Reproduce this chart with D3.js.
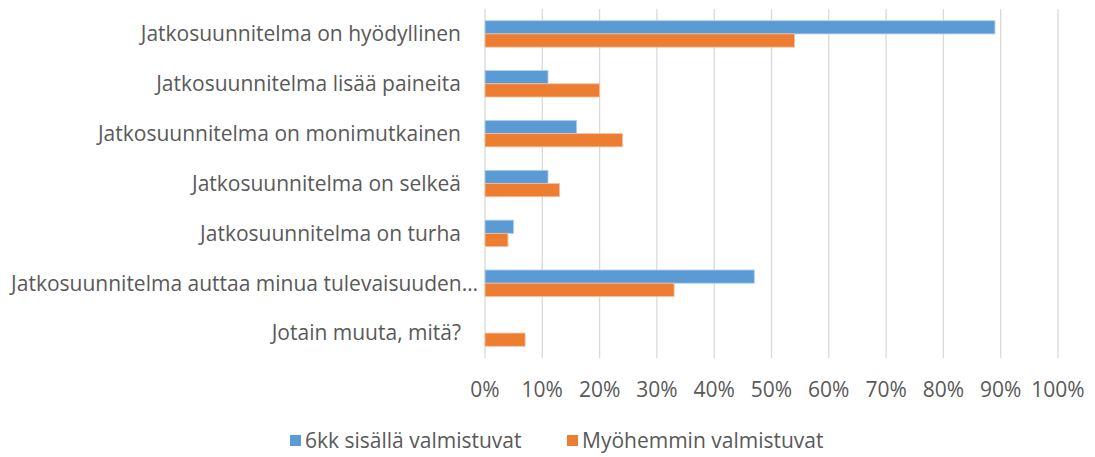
<!DOCTYPE html>
<html lang="fi">
<head>
<meta charset="UTF-8">
<title>Jatkosuunnitelma</title>
<style>
  body { margin: 0; background: #fff; }
  svg text { font-family: "Open Sans", sans-serif; fill: #595959; }
</style>
</head>
<body>
<svg width="1095" height="457"></svg>
<script src="https://d3js.org/d3.v7.min.js"></script>
<script>
const categories = [
  "Jatkosuunnitelma on hyödyllinen",
  "Jatkosuunnitelma lisää paineita",
  "Jatkosuunnitelma on monimutkainen",
  "Jatkosuunnitelma on selkeä",
  "Jatkosuunnitelma on turha",
  "Jatkosuunnitelma auttaa minua tulevaisuuden…",
  "Jotain muuta, mitä?"
];
const seriesNames = ["6kk sisällä valmistuvat", "Myöhemmin valmistuvat"];
const within6 = [89, 11, 16, 11, 5, 47, 0];
const later = [54, 20, 24, 13, 4, 33, 7];
const ticks = [0, 10, 20, 30, 40, 50, 60, 70, 80, 90, 100];
const colors = ["#5b9bd5", "#ed7d31"];
const strokes = ["#b4d0ec", "#f6c0a0"];

const svg = d3.select("svg");
const x = d3.scaleLinear().domain([0, 100]).range([485, 1058]);
const y = d3.scaleBand().domain(categories).range([9, 358]).paddingInner(0.47).paddingOuter(0.235);
const sub = d3.scaleBand().domain([0, 1]).range([0, y.bandwidth()]);

// gridlines
svg.append("g").selectAll("line").data(ticks).join("line")
  .attr("x1", d => x(d)).attr("x2", d => x(d))
  .attr("y1", 9).attr("y2", 358)
  .attr("stroke", "#d9d9d9").attr("stroke-width", 1.3);

// bars
const series = [within6, later];
series.forEach((vals, s) => {
  svg.append("g").selectAll("rect").data(categories).join("rect")
    .attr("x", x(0))
    .attr("y", (c) => y(c) + sub(s))
    .attr("width", (c, i) => x(vals[i]) - x(0))
    .attr("height", sub.bandwidth())
    .attr("fill", colors[s])
    .attr("stroke", (c, i) => vals[i] > 0 ? strokes[s] : "none")
    .attr("stroke-width", 0.8);
});

// category labels (the truncated one hangs a bit further right, as in Excel)
svg.append("g").selectAll("text").data(categories).join("text")
  .attr("x", d => d.endsWith("…") ? 478 : 461)
  .attr("y", c => y(c) + y.bandwidth() / 2)
  .attr("dy", "0.35em")
  .attr("text-anchor", "end")
  .attr("font-size", 21)
  .text(d => d);

// x tick labels
svg.append("g").selectAll("text").data(ticks).join("text")
  .attr("x", d => x(d))
  .attr("y", 390)
  .attr("dy", "0.35em")
  .attr("text-anchor", "middle")
  .attr("font-size", 21)
  .text(d => d + "%");

// legend
const legend = svg.append("g");
const lx = [290, 567];
seriesNames.forEach((name, s) => {
  legend.append("rect")
    .attr("x", lx[s]).attr("y", 435)
    .attr("width", 11).attr("height", 11)
    .attr("fill", colors[s]);
  legend.append("text")
    .attr("x", lx[s] + 15).attr("y", 441)
    .attr("dy", "0.35em")
    .attr("font-size", 21)
    .text(name);
});
</script>
</body>
</html>
